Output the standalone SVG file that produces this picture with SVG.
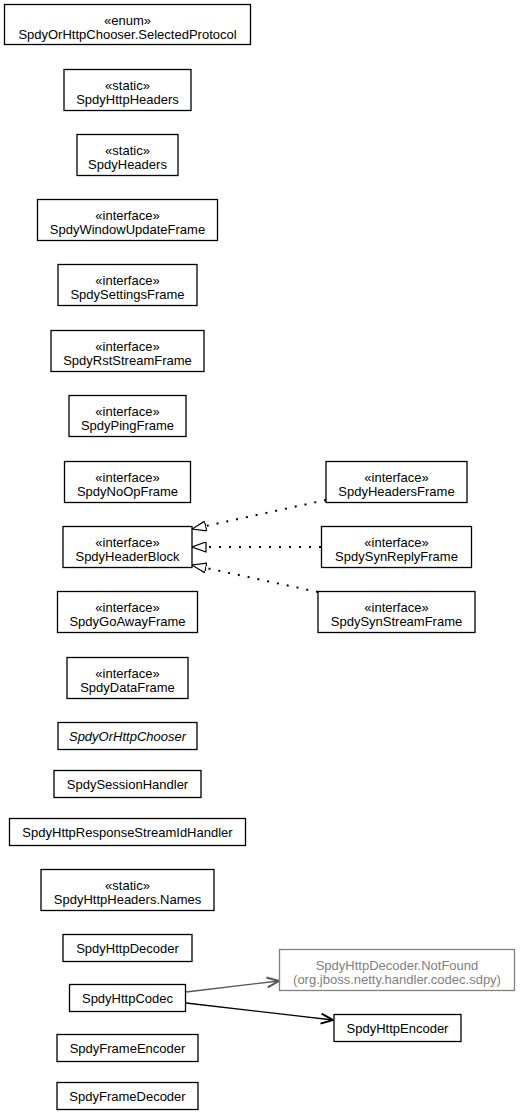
<svg xmlns="http://www.w3.org/2000/svg" width="520" height="1115" viewBox="0 0 520 1115">
<style>
text{font-family:"Liberation Sans",Arial,sans-serif;font-size:13px;text-anchor:middle;fill:#000}
.b{fill:#fff;stroke:#000;stroke-width:1.3}
.g{fill:#fff;stroke:#808080;stroke-width:1.3}
.gt{fill:#808080}
.it{font-style:italic}
.dot{fill:none;stroke:#000;stroke-width:2;stroke-dasharray:2 8}
.dep{fill:none;stroke:#000;stroke-width:1.3}
.depg{fill:none;stroke:#555;stroke-width:1.3}
</style>
<defs>
<marker id="tri" viewBox="0 0 15 11" refX="14.5" refY="5.5" markerWidth="15" markerHeight="11" markerUnits="userSpaceOnUse" orient="auto">
<path d="M0.5,0.5 L14.5,5.5 L0.5,10.5 z" fill="#fff" stroke="#000" stroke-width="1.2" stroke-dasharray="none"/>
</marker>
<marker id="open" viewBox="0 0 14 12" refX="13" refY="6" markerWidth="14" markerHeight="12" markerUnits="userSpaceOnUse" orient="auto">
<path d="M1,1 L13,6 L1,11" fill="none" stroke="#000" stroke-width="2"/>
</marker>
<marker id="openg" viewBox="0 0 14 12" refX="13" refY="6" markerWidth="14" markerHeight="12" markerUnits="userSpaceOnUse" orient="auto">
<path d="M1,1 L13,6 L1,11" fill="none" stroke="#555" stroke-width="2"/>
</marker>
</defs>
<g id="connectors">
<line class="dot" x1="326" y1="500" x2="192" y2="529" marker-end="url(#tri)"/>
<line class="dot" x1="321" y1="547" x2="192" y2="547" marker-end="url(#tri)"/>
<line class="dot" x1="318" y1="592" x2="192" y2="565" marker-end="url(#tri)"/>
<line class="depg" x1="186" y1="992" x2="279" y2="981" marker-end="url(#openg)"/>
<line class="dep" x1="186" y1="1003" x2="333" y2="1020" marker-end="url(#open)"/>
</g>
<g id="n1"><rect class="b" x="4.5" y="4.5" width="246" height="40"/><text x="127.5" y="24.5">«enum»</text><text x="127.5" y="38.5">SpdyOrHttpChooser.SelectedProtocol</text></g>
<g id="n2"><rect class="b" x="64" y="69.5" width="127" height="41"/><text x="127.5" y="90">«static»</text><text x="127.5" y="104">SpdyHttpHeaders</text></g>
<g id="n3"><rect class="b" x="77" y="134.5" width="101" height="41"/><text x="127.5" y="155">«static»</text><text x="127.5" y="169">SpdyHeaders</text></g>
<g id="n4"><rect class="b" x="37.5" y="199.5" width="180" height="41"/><text x="127.5" y="220">«interface»</text><text x="127.5" y="234">SpdyWindowUpdateFrame</text></g>
<g id="n5"><rect class="b" x="58" y="264.5" width="139" height="41"/><text x="127.5" y="285">«interface»</text><text x="127.5" y="299">SpdySettingsFrame</text></g>
<g id="n6"><rect class="b" x="51" y="330.5" width="153" height="41"/><text x="127.5" y="351">«interface»</text><text x="127.5" y="365">SpdyRstStreamFrame</text></g>
<g id="n7"><rect class="b" x="69" y="395.5" width="117" height="41"/><text x="127.5" y="416">«interface»</text><text x="127.5" y="430">SpdyPingFrame</text></g>
<g id="n8"><rect class="b" x="64.5" y="461.5" width="126" height="41"/><text x="127.5" y="482">«interface»</text><text x="127.5" y="496">SpdyNoOpFrame</text></g>
<g id="n9"><rect class="b" x="63" y="526.5" width="129" height="41"/><text x="127.5" y="547">«interface»</text><text x="127.5" y="561">SpdyHeaderBlock</text></g>
<g id="n10"><rect class="b" x="57.5" y="591.5" width="140" height="41"/><text x="127.5" y="612">«interface»</text><text x="127.5" y="626">SpdyGoAwayFrame</text></g>
<g id="n11"><rect class="b" x="67" y="657.5" width="121" height="41"/><text x="127.5" y="678">«interface»</text><text x="127.5" y="692">SpdyDataFrame</text></g>
<g id="n12"><rect class="b" x="58" y="722.5" width="139" height="27"/><text class="it" x="127.5" y="740.5">SpdyOrHttpChooser</text></g>
<g id="n13"><rect class="b" x="54" y="770.5" width="147" height="27"/><text x="127.5" y="788.5">SpdySessionHandler</text></g>
<g id="n14"><rect class="b" x="9.5" y="818.5" width="236" height="27"/><text x="127.5" y="836.5">SpdyHttpResponseStreamIdHandler</text></g>
<g id="n15"><rect class="b" x="41" y="869.5" width="173" height="41"/><text x="127.5" y="890">«static»</text><text x="127.5" y="904">SpdyHttpHeaders.Names</text></g>
<g id="n16"><rect class="b" x="63" y="934.5" width="129" height="27"/><text x="127.5" y="952.5">SpdyHttpDecoder</text></g>
<g id="n17"><rect class="b" x="69.5" y="984.5" width="116" height="27"/><text x="127.5" y="1002.5">SpdyHttpCodec</text></g>
<g id="n18"><rect class="b" x="57" y="1034.5" width="141" height="27"/><text x="127.5" y="1052.5">SpdyFrameEncoder</text></g>
<g id="n19"><rect class="b" x="57" y="1082.5" width="141" height="27"/><text x="127.5" y="1100.5">SpdyFrameDecoder</text></g>
<g id="n20"><rect class="b" x="326" y="461.5" width="141" height="41"/><text x="396.5" y="482">«interface»</text><text x="396.5" y="496">SpdyHeadersFrame</text></g>
<g id="n21"><rect class="b" x="321.5" y="526.5" width="150" height="41"/><text x="396.5" y="547">«interface»</text><text x="396.5" y="561">SpdySynReplyFrame</text></g>
<g id="n22"><rect class="b" x="318" y="591.5" width="157" height="41"/><text x="396.5" y="612">«interface»</text><text x="396.5" y="626">SpdySynStreamFrame</text></g>
<g id="n23"><rect class="g" x="279.5" y="949.5" width="235" height="41"/><text class="gt" x="397" y="970">SpdyHttpDecoder.NotFound</text><text class="gt" x="397" y="984">(org.jboss.netty.handler.codec.sdpy)</text></g>
<g id="n24"><rect class="b" x="334" y="1014.5" width="127" height="27"/><text x="397.5" y="1032.5">SpdyHttpEncoder</text></g>
</svg>
